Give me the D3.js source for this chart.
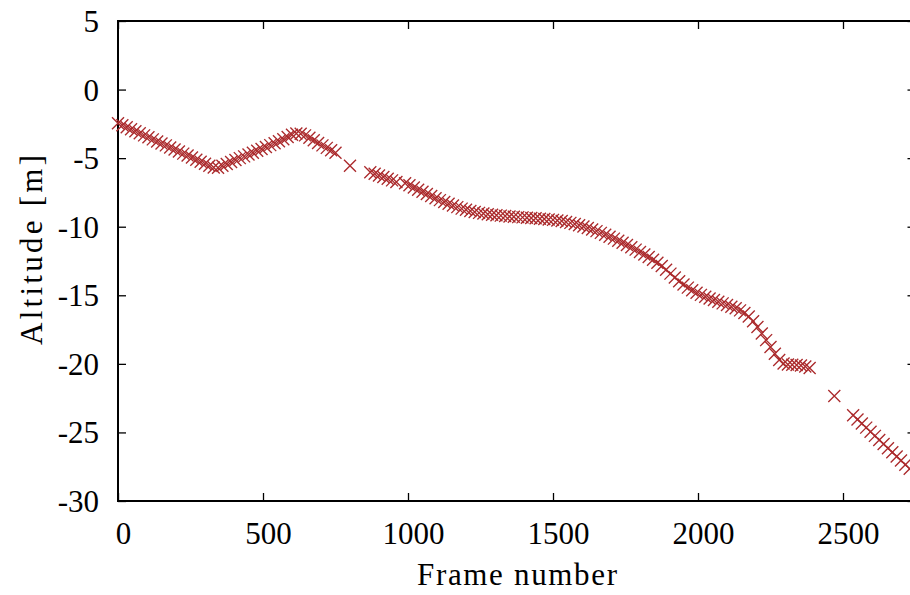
<!DOCTYPE html>
<html>
<head>
<meta charset="utf-8">
<script src="https://cdn.jsdelivr.net/npm/d3@7"></script>
<style>
  html, body { margin: 0; padding: 0; background: #fff; }
  svg { display: block; }
  text { font-family: "Liberation Serif", "DejaVu Serif", serif; fill: #000; }
</style>
</head>
<body>
<svg id="chart" width="910" height="595"></svg>
<script>
// ---- data ----
const frames = [
  0,15,30,45,60,75,90,105,120,135,150,165,180,195,210,225,240,255,270,285,
  300,315,330,345,360,375,390,405,420,435,450,465,480,495,510,525,540,555,570,585,
  600,615,630,645,660,675,690,705,720,735,750,
  800,
  870,885,900,915,930,945,960,
  990,1005,1020,1035,1050,1065,1080,1095,1110,1125,1140,1155,1170,1185,
  1200,1215,1230,1245,1260,1275,1290,1305,1320,1335,1350,1365,1380,1395,
  1410,1425,1440,1455,1470,1485,1500,1515,1530,1545,1560,1575,1590,
  1605,1620,1635,1650,1665,1680,1695,1710,1725,1740,1755,1770,1785,
  1800,1815,1830,1845,1860,1875,1890,1905,1920,1935,1950,1965,1980,1995,
  2010,2025,2040,2055,2070,2085,2100,2115,2130,2145,2160,2175,2190,
  2205,2220,2235,2250,2265,2280,2295,2310,2325,2340,2355,2370,2385,
  2470,
  2535,2550,2565,2580,2595,2610,2625,2640,2655,2670,2685,2700,2715,2730
];
const altitude = [
  -2.45,-2.60,-2.75,-2.89,-3.04,-3.19,-3.34,-3.48,-3.63,-3.78,-3.93,-4.07,-4.22,-4.37,-4.52,-4.67,-4.81,-4.96,-5.11,-5.26,
  -5.41,-5.55,-5.68,-5.70,-5.56,-5.42,-5.28,-5.14,-5.00,-4.87,-4.73,-4.60,-4.46,-4.33,-4.19,-4.05,-3.91,-3.77,-3.62,-3.46,
  -3.30,-3.20,-3.22,-3.34,-3.52,-3.70,-3.89,-4.07,-4.25,-4.43,-4.60,
  -5.55,
  -6.03,-6.14,-6.26,-6.38,-6.50,-6.62,-6.74,
  -6.83,-6.98,-7.14,-7.30,-7.45,-7.61,-7.76,-7.92,-8.06,-8.20,-8.33,-8.45,-8.57,-8.68,
  -8.77,-8.86,-8.93,-8.99,-9.04,-9.09,-9.13,-9.16,-9.19,-9.22,-9.25,-9.28,-9.30,-9.32,
  -9.35,-9.37,-9.39,-9.42,-9.44,-9.47,-9.50,-9.55,-9.59,-9.65,-9.72,-9.80,-9.89,
  -9.99,-10.09,-10.20,-10.32,-10.45,-10.59,-10.73,-10.87,-11.02,-11.17,-11.33,-11.50,-11.67,
  -11.84,-12.02,-12.21,-12.41,-12.63,-12.87,-13.14,-13.42,-13.71,-13.98,-14.22,-14.44,-14.64,-14.82,
  -14.97,-15.11,-15.23,-15.35,-15.47,-15.59,-15.71,-15.83,-15.95,-16.10,-16.29,-16.55,-16.89,
  -17.31,-17.78,-18.27,-18.77,-19.26,-19.72,-19.98,-20.05,-20.06,-20.08,-20.12,-20.20,-20.30,
  -22.35,
  -23.75,-24.05,-24.35,-24.65,-24.95,-25.25,-25.55,-25.85,-26.15,-26.45,-26.75,-27.05,-27.35,-27.65
];
const xTicks = [0, 500, 1000, 1500, 2000, 2500];
const yTicks = [5, 0, -5, -10, -15, -20, -25, -30];
const xLabel = "Frame number";
const yLabel = "Altitude [m]";

// ---- layout ----
const svg = d3.select("#chart");
const mLeft = 118, mRight = 915.5, mTop = 21, mBottom = 501;
const x = d3.scaleLinear().domain([0, 2750]).range([mLeft, mRight]);
const y = d3.scaleLinear().domain([-30, 5]).range([mBottom, mTop]);
const color = "#ab2a2c";
const fontSize = 31;
const tickLen = 8;
const fmt = d => String(d); // plain hyphen minus, as in the reference

// axes with inward ticks
const gx = svg.append("g").attr("transform", `translate(0,${mBottom})`)
  .call(d3.axisBottom(x).tickValues(xTicks).tickFormat(fmt).tickSize(-tickLen).tickPadding(21));
const gy = svg.append("g").attr("transform", `translate(${mLeft},0)`)
  .call(d3.axisLeft(y).tickValues(yTicks).tickFormat(fmt).tickSize(-tickLen).tickPadding(19));
// mirrored ticks on top/right
svg.append("g").attr("transform", `translate(0,${mTop})`)
  .call(d3.axisTop(x).tickValues(xTicks).tickFormat("").tickSize(-tickLen));
svg.append("g").attr("transform", `translate(${mRight},0)`)
  .call(d3.axisRight(y).tickValues(yTicks).tickFormat("").tickSize(-tickLen));

svg.selectAll(".domain").remove();
svg.selectAll(".tick line").attr("stroke", "#000").attr("stroke-width", 1.3);
svg.selectAll(".tick text").style("font-size", fontSize + "px")
  .style("font-family", '"Liberation Serif", serif').attr("fill", "#000");
gx.selectAll(".tick text").attr("dx", 5);
gy.selectAll(".tick text").attr("dy", "0.34em");

// border frame
svg.append("rect").attr("x", mLeft).attr("y", mTop)
  .attr("width", mRight - mLeft).attr("height", mBottom - mTop)
  .attr("fill", "none").attr("stroke", "#000").attr("stroke-width", 2);

// points as crosses
const pts = frames.map((f, i) => ({ f, a: altitude[i] }));
const r = 6;
svg.append("g").selectAll("path").data(pts).join("path")
  .attr("d", d => {
    const cx = x(d.f), cy = y(d.a);
    return `M${cx - r},${cy - r}L${cx + r},${cy + r}M${cx - r},${cy + r}L${cx + r},${cy - r}`;
  })
  .attr("stroke", color).attr("stroke-width", 1.35).attr("fill", "none");

// axis titles
svg.append("text").attr("x", 517).attr("y", 585).attr("text-anchor", "middle")
  .style("font-size", fontSize + "px")
  .attr("textLength", 200).attr("lengthAdjust", "spacing").text(xLabel);
svg.append("text").attr("transform", `translate(42,250) rotate(-90)`)
  .attr("text-anchor", "middle").style("font-size", fontSize + "px")
  .attr("textLength", 190).attr("lengthAdjust", "spacing").text(yLabel);
</script>
</body>
</html>
